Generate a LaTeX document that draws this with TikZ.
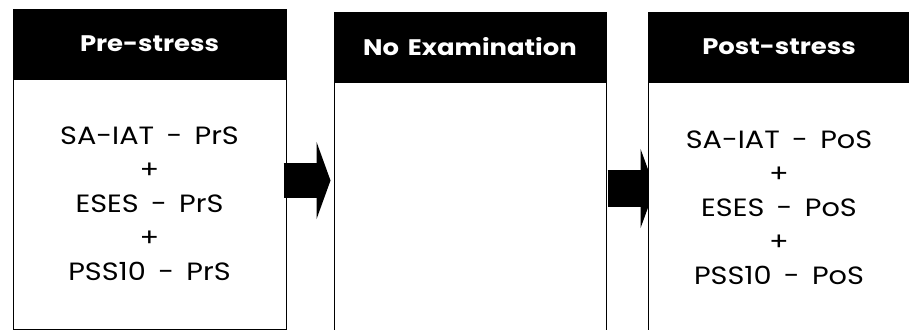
\documentclass[tikz,border=0pt]{standalone}
\usepackage{fontspec}
\setmainfont{Poppins}[FakeStretch=1.15, WordSpace=1.6]
\usetikzlibrary{arrows.meta,positioning}
\pgfdeclarelayer{back}
\pgfsetlayers{back,main}

\begin{document}
\begin{tikzpicture}[
  x=1pt, y=1pt,
  node distance=0pt,
  head/.style={draw, line width=1pt, fill=black, text=white, font=\bfseries\fontsize{22.5}{26}\selectfont, minimum height=68pt, inner sep=0pt},
  body/.style={draw, line width=1pt, fill=white, font=\fontsize{25}{34}\selectfont, align=center, inner sep=0pt},
  blockarr/.style={line width=35pt, -{Triangle[length=14pt,width=77pt]}}
]
\clip (0,0) rectangle (909,-329);
% the three phases
\node[head, minimum width=273pt] (h1) at (149.5,-44) {Pre-stress};
\node[body, below=of h1, minimum width=273pt, minimum height=250pt] (b1) {SA-IAT - PrS\\+\\ESES - PrS\\+\\PSS10 - PrS};
\node[head, minimum width=272pt, right=47pt of h1, yshift=-3pt] (h2) {No Examination};
\node[body, below=of h2, minimum width=272pt, minimum height=252pt] (b2) {};
\node[head, minimum width=262pt, right=41pt of h2] (h3) {Post-stress};
\node[body, below=of h3, minimum width=262pt, minimum height=252pt] (b3) {SA-IAT - PoS\\+\\ESES - PoS\\+\\PSS10 - PoS};
% block arrows
\draw[blockarr, shorten >=3pt] ([shift={(-3,23.5)}]b1.east) coordinate (s1) -- (s1 -| b2.west);
\begin{pgfonlayer}{back}
\draw[blockarr, line width=37pt, -{Triangle[length=14.5pt,width=79pt]}] ([shift={(1,19.5)}]b2.east) coordinate (s2) -- ([xshift=7.5pt]s2 -| b3.west);
\end{pgfonlayer}
\end{tikzpicture}
\end{document}
